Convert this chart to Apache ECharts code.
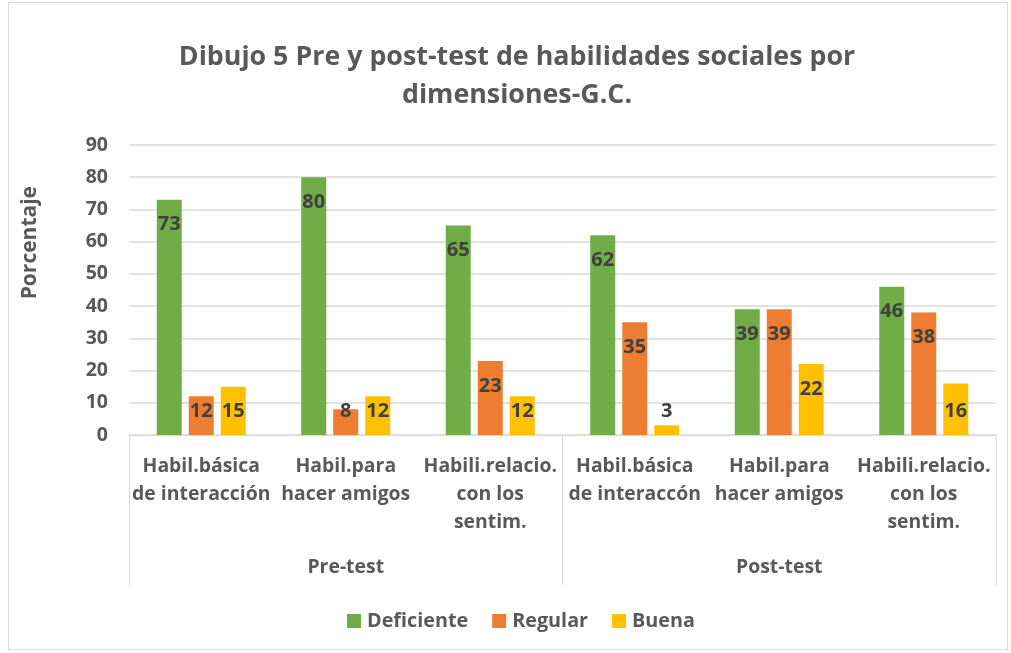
<!DOCTYPE html>
<html>
<head>
<meta charset="utf-8">
<script src="https://cdn.jsdelivr.net/npm/echarts@6/dist/echarts.min.js"></script>
<style>
	html, body { margin: 0; padding: 0; background: #fff; }
	#chart { position: absolute; left: 0; top: 0; width: 1011px; height: 653px; }
	#frame { position: absolute; left: 8px; top: 2px; width: 998px; height: 646px; border: 1px solid #d9d9d9; pointer-events: none; }
</style>
</head>
<body>
<div id="chart"></div>
<div id="frame"></div>
<script>
let categories = [
	"Habil.básica\nde interacción", "Habil.para\nhacer amigos", "Habili.relacio.\ncon los\nsentim.",
	"Habil.básica\nde interaccón", "Habil.para\nhacer amigos", "Habili.relacio.\ncon los\nsentim."
]
let groups = ["Pre-test", "Post-test"]
let deficiente = [73, 80, 65, 62, 39, 46]
let regular = [12, 8, 23, 35, 39, 38]
let buena = [15, 12, 12, 3, 22, 16]

let font = "'Open Sans', sans-serif"
let gray = "#595959"

function barData(values) {
	// short bars: Excel keeps the label low, near the axis
	return values.map(function (v) {
		if (v < 17)
			return {value: v, label: {position: "insideBottom", distance: 14}}
		return v
	})
}

function barSeries(name, values, color) {
	return {
		name: name,
		type: "bar",
		data: barData(values),
		barWidth: 25,
		barGap: "28%",
		itemStyle: {color: color},
		label: {
			show: true,
			position: "insideTop",
			distance: 15,
			color: "#404040",
			fontFamily: font,
			fontWeight: "bold",
			fontSize: 20
		}
	}
}

let chart = echarts.init(document.getElementById("chart"))
let option = {
	animation: false,
	title: {
		text: "Dibujo 5 Pre y post-test de habilidades sociales por\ndimensiones-G.C.",
		left: 512,
		top: 33,
		textAlign: "center",
		textStyle: {
			color: gray,
			fontFamily: font,
			fontWeight: "bold",
			fontSize: 26.8,
			lineHeight: 38
		}
	},
	legend: {
		bottom: 17,
		left: 342,
		itemWidth: 14,
		itemHeight: 14,
		itemGap: 24,
		icon: "rect",
		textStyle: {color: gray, fontFamily: font, fontWeight: "bold", fontSize: 19.8, padding: [0, 0, 0, 1]}
	},
	graphic: [{
		type: "text",
		left: 20,
		top: 186,
		rotation: Math.PI / 2,
		style: {
			text: "Porcentaje",
			fill: gray,
			font: "bold 21px " + font
		}
	}],
	grid: {left: 129, right: 15, top: 145, bottom: 218},
	xAxis: [{
		type: "category",
		data: categories,
		axisLine: {lineStyle: {color: "#d9d9d9"}},
		axisTick: {show: false},
		axisLabel: {
			interval: 0,
			margin: 17,
			color: gray,
			fontFamily: font,
			fontWeight: "bold",
			fontSize: 19.4,
			lineHeight: 28,
			verticalAlign: "top"
		}
	}, {
		type: "category",
		data: groups,
		position: "bottom",
		axisLine: {show: false},
		axisTick: {show: true, length: 150, lineStyle: {color: "#d9d9d9"}},
		axisLabel: {
			margin: 123,
			color: gray,
			fontFamily: font,
			fontWeight: "bold",
			fontSize: 19.4,
			verticalAlign: "top"
		}
	}],
	yAxis: {
		type: "value",
		min: 0,
		max: 90,
		interval: 10,
		axisLine: {show: false},
		axisTick: {show: false},
		splitLine: {lineStyle: {color: "#d9d9d9", width: 1.5}},
		axisLabel: {
			margin: 21,
			color: gray,
			fontFamily: font,
			fontWeight: "bold",
			fontSize: 19.5
		}
	},
	series: [
		barSeries("Deficiente", deficiente, "#70ad47"),
		barSeries("Regular", regular, "#ed7d31"),
		barSeries("Buena", buena, "#ffc000")
	]
}
chart.setOption(option)
window.onresize = chart.resize
</script>
</body>
</html>
